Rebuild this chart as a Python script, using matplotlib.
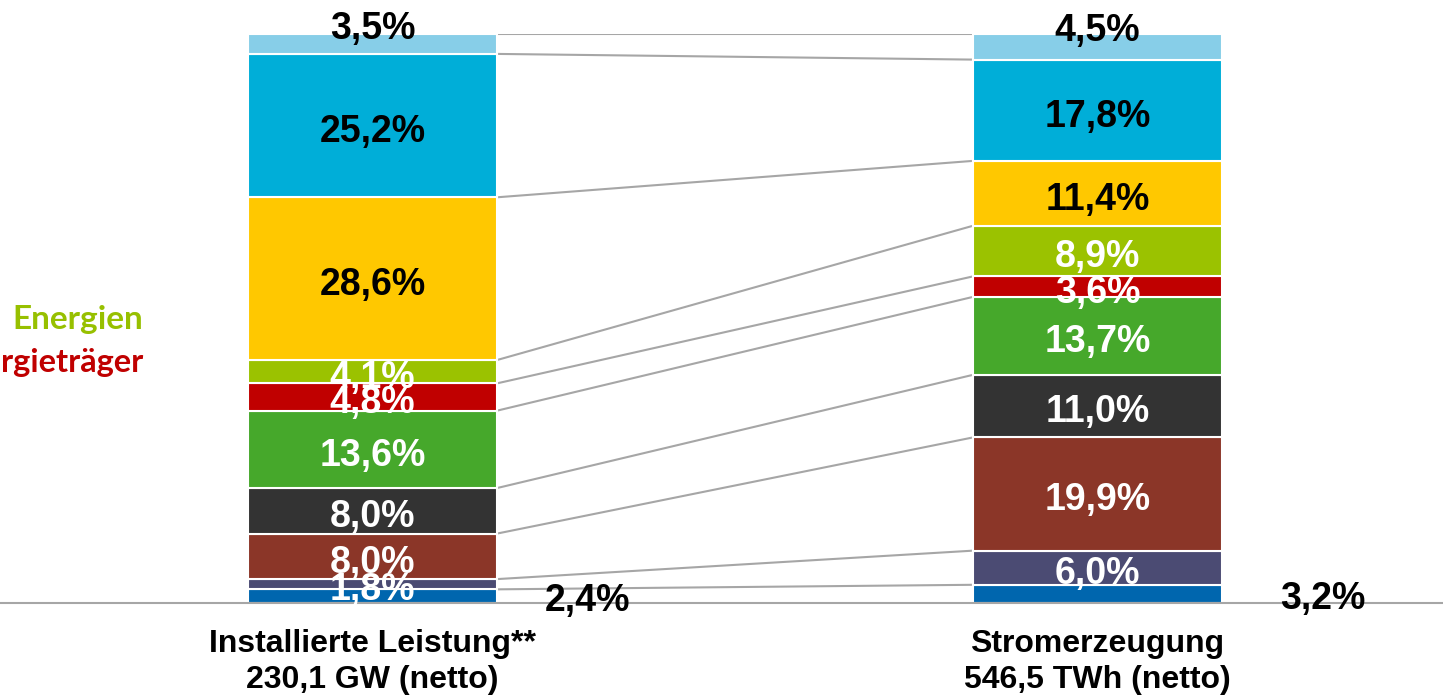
import matplotlib
matplotlib.use("Agg")
import matplotlib.pyplot as plt
import numpy as np

categories = ["Installierte Leistung**\n230,1 GW (netto)", "Stromerzeugung\n546,5 TWh (netto)"]
# shares bottom -> top
left_values = [2.4, 1.8, 8.0, 8.0, 13.6, 4.8, 4.1, 28.6, 25.2, 3.5]
right_values = [3.2, 6.0, 19.9, 11.0, 13.7, 3.6, 8.9, 11.4, 17.8, 4.5]
left_labels = ["2,4%", "1,8%", "8,0%", "8,0%", "13,6%", "4,8%", "4,1%", "28,6%", "25,2%", "3,5%"]
right_labels = ["3,2%", "6,0%", "19,9%", "11,0%", "13,7%", "3,6%", "8,9%", "11,4%", "17,8%", "4,5%"]
seg_colors = ["#0066AE", "#4B4B73", "#8B3628", "#333333", "#46A82B",
              "#C00000", "#9BC200", "#FFC800", "#00AED8", "#87CEE8"]
label_colors = ["black", "white", "white", "white", "white",
                "white", "white", "black", "black", "black"]
side_texts = ["Energien", "rgieträger"]
side_colors = ["#97C000", "#C00000"]

W, H = 1443, 697
fig = plt.figure(figsize=(W / 100, H / 100), dpi=100)
ax = fig.add_axes([0, 94 / H, 1, (663 - 94) / H])
ax.set_facecolor("none")

pitch = 725.0
bw = 249.0 / pitch
ax.set_xlim(-372.5 / pitch, (W - 372.5) / pitch)
ax.set_ylim(0, 100)

x = [0, 1]
series = [left_values, right_values]
labels = [left_labels, right_labels]
outside_dx = [0.296, 0.311]

for xi, vals, labs, dx in zip(x, series, labels, outside_dx):
    bottoms = np.concatenate([[0], np.cumsum(vals)[:-1]])
    for i, (v, b) in enumerate(zip(vals, bottoms)):
        ax.bar(xi, v, bottom=b, width=bw, color=seg_colors[i],
               edgecolor="white", linewidth=1.5, zorder=2)
    for i, (v, b) in enumerate(zip(vals, bottoms)):
        if i == 0:
            continue  # bottom label drawn outside
        y = b + v / 2 - 0.4
        if i == len(vals) - 1:
            y += 3.8
        ax.text(xi, y, labs[i], ha="center", va="center_baseline",
                fontsize=27, fontweight="bold", color=label_colors[i],
                family="Liberation Sans", zorder=4)
    # bottom segment label, outside on the right
    ax.text(xi + dx, vals[0] / 2 - 0.2, labs[0], ha="center", va="center_baseline",
            fontsize=27, fontweight="bold", color="black",
            family="Liberation Sans", zorder=4)

# connector lines between cumulative tops
lc = np.cumsum(left_values)
rc = np.cumsum(right_values)
for a, b in zip(lc, rc):
    ax.plot([0 + bw / 2, 1 - bw / 2], [a, b], color="#A6A6A6", lw=1.5, zorder=1)

for s in ["top", "right", "left"]:
    ax.spines[s].set_visible(False)
ax.spines["bottom"].set_color("#A6A6A6")
ax.spines["bottom"].set_linewidth(1.5)
ax.set_yticks([])
ax.set_xticks(x)
ax.set_xticklabels(categories, fontsize=23, fontweight="bold",
                   family="Liberation Sans", linespacing=1.25)
ax.tick_params(axis="x", length=0, pad=19)

# partially visible legend text at the left edge
fig.text(143 / W, 1 - 320 / H, side_texts[0], ha="right", va="center",
         fontsize=24, fontweight="bold", color=side_colors[0], family="Lato")
fig.text(143 / W, 1 - 363 / H, side_texts[1], ha="right", va="center",
         fontsize=23.5, fontweight="bold", color=side_colors[1], family="Lato")

fig.savefig("out.png", dpi=100)
